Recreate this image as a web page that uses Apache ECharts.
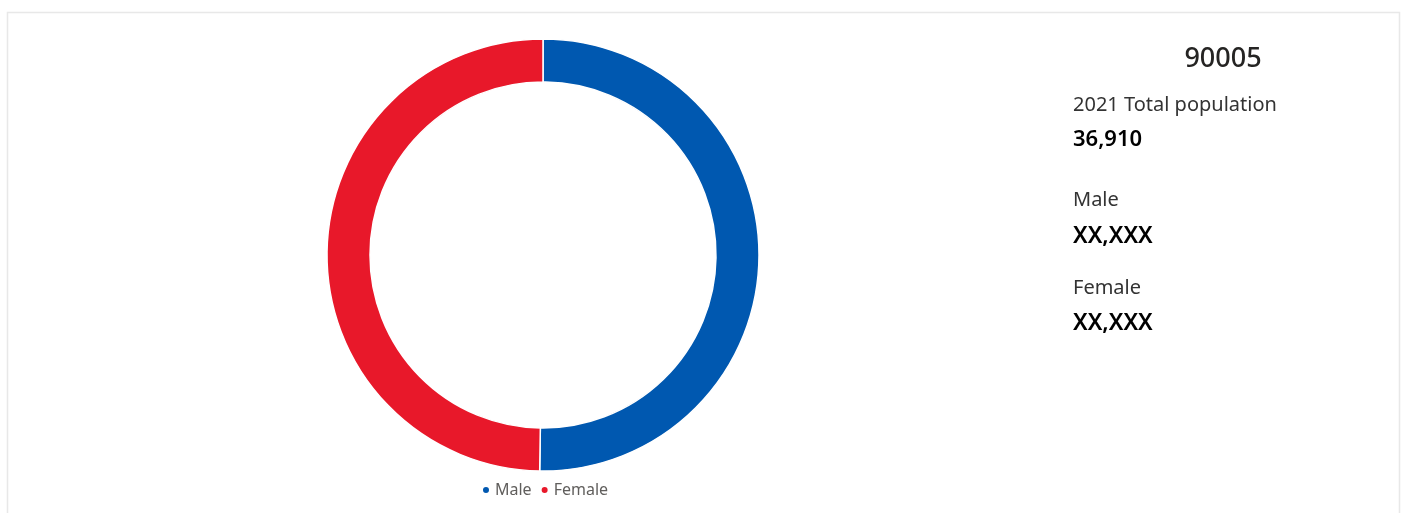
<!DOCTYPE html>
<html><head><meta charset="utf-8">
<script src="https://cdn.jsdelivr.net/npm/echarts@6/dist/echarts.min.js"></script>
<style>html,body{margin:0;padding:0;background:#fff}#c{width:1407px;height:513px}</style>
</head><body><div id="c"></div>
<script>
const categories = ['Male', 'Female'];
const values = [18545, 18365];
const colors = ['#0058B0', '#E8182A'];
const zip = '90005';
const totalLabel = '2021 Total population';
const totalValue = '36,910';
const maleLabel = 'Male';
const maleValue = 'XX,XXX';
const femaleLabel = 'Female';
const femaleValue = 'XX,XXX';

const chart = echarts.init(document.getElementById('c'), null, {renderer: 'canvas'});
const font = '"Noto Sans", "DejaVu Sans", sans-serif';
function txt(x, y, t, size, weight, color, align) {
  return {type: 'text', x: x, y: y, style: {text: t, font: weight + ' ' + size + 'px ' + font, fill: color, textAlign: align || 'left', textVerticalAlign: 'middle'}};
}
chart.setOption({
  animation: false,
  color: colors,
  graphic: [
    {type: 'rect', shape: {x: 7.5, y: 12.5, width: 1392, height: 520}, style: {fill: 'none', stroke: '#e8e8e8', lineWidth: 1.5}, z: -1},
    txt(1223, 59, zip, 27, '500', '#252423', 'center'),
    txt(1073, 105, totalLabel, 20, '400', '#333333'),
    txt(1073, 140, totalValue, 22, '600', '#000000'),
    txt(1073, 200, maleLabel, 20, '400', '#333333'),
    txt(1073, 236, maleValue, 23, '600', '#000000'),
    txt(1073, 288, femaleLabel, 20, '400', '#333333'),
    txt(1073, 323, femaleValue, 23, '600', '#000000')
  ],
  legend: {
    data: categories,
    left: 476, top: 477,
    icon: 'circle', itemWidth: 8, itemHeight: 8, itemGap: 8,
    textStyle: {color: '#605E5C', fontSize: 16, fontFamily: font}
  },
  series: [{
    type: 'pie',
    center: [543, 255],
    radius: [173, 216],
    startAngle: 90,
    clockwise: true,
    label: {show: false},
    labelLine: {show: false},
    itemStyle: {borderColor: '#ffffff', borderWidth: 1.5},
    emphasis: {disabled: true},
    data: categories.map((c, i) => ({name: c, value: values[i]}))
  }]
});
</script></body></html>
